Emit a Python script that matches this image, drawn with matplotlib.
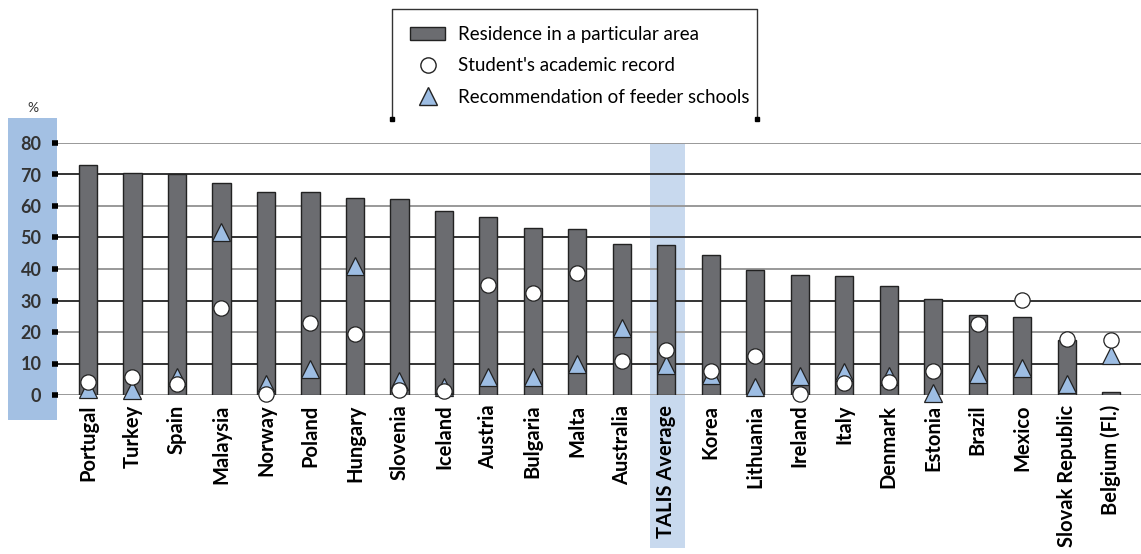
import matplotlib
matplotlib.use("Agg")
import matplotlib.pyplot as plt
import matplotlib.transforms as mtransforms
from matplotlib.patches import Rectangle, Patch
from matplotlib.lines import Line2D
import numpy as np

plt.rcParams['font.family'] = ['Lato', 'DejaVu Sans']

# Data
countries = ["Portugal", "Turkey", "Spain", "Malaysia", "Norway", "Poland",
             "Hungary", "Slovenia", "Iceland", "Austria", "Bulgaria", "Malta",
             "Australia", "TALIS Average", "Korea", "Lithuania", "Ireland",
             "Italy", "Denmark", "Estonia", "Brazil", "Mexico",
             "Slovak Republic", "Belgium (Fl.)"]
residence = [72.9, 70.6, 70.0, 67.3, 64.6, 64.4, 62.4, 62.2, 58.3, 56.5,
             52.9, 52.6, 47.9, 47.6, 44.6, 39.6, 38.2, 37.7, 34.5, 30.4,
             25.3, 24.9, 17.5, 0.9]
academic = [4.2, 5.8, 3.5, 27.5, 0.3, 23.0, 19.3, 1.7, 1.3, 35.0,
            32.5, 38.8, 10.8, 14.2, 7.6, 12.3, 0.3, 3.8, 4.1, 7.7,
            22.5, 30.3, 17.9, 17.6]
feeder = [2.0, 1.5, 5.7, 51.8, 3.5, 8.3, 40.8, 4.5, 2.4, 5.6,
          5.8, 10.0, 21.2, 9.4, 6.2, 2.4, 6.1, 7.4, 6.0, 0.7,
          6.8, 8.6, 3.4, 12.7]
yticks = [0, 10, 20, 30, 40, 50, 60, 70, 80]
highlight = "TALIS Average"

W, H = 1141, 554
fig = plt.figure(figsize=(W / 100, H / 100), dpi=100)
ax = fig.add_axes([58 / W, 1 - 395 / H, 1 - 58 / W, (395 - 143) / H])

x = np.arange(len(countries))
bar_col = "#6b6c70"
tri_col = "#9dbde3"
edge = "#222222"

# blue box behind the y tick labels
fig.patches.append(Rectangle((8 / W, 1 - 420 / H), 49 / W, 302 / H,
                             transform=fig.transFigure, facecolor="#a3c0e3",
                             edgecolor="none", zorder=-1))

# highlighted column for the average
hi = countries.index(highlight)
trans = mtransforms.blended_transform_factory(ax.transData, fig.transFigure)
ax.add_patch(Rectangle((hi - 0.37, 6 / H), 0.78, (H - 6 - 143) / H,
                       transform=trans, facecolor="#c8d9ee", edgecolor="none",
                       clip_on=False, zorder=0))

ax.bar(x, residence, width=0.41, color=bar_col, edgecolor=edge, linewidth=1,
       zorder=3)
ax.plot(x, feeder, linestyle="none", marker="^", markersize=13,
        markerfacecolor=tri_col, markeredgecolor=edge, markeredgewidth=0.9,
        zorder=4, clip_on=False)
ax.plot(x, academic, linestyle="none", marker="o", markersize=11,
        markerfacecolor="white", markeredgecolor=edge, markeredgewidth=0.9,
        zorder=5, clip_on=False)

ax.set_xlim(-0.674, 23.67)
ax.set_ylim(0, 80)
ax.set_yticks(yticks)
ax.set_yticklabels([str(t) for t in yticks], fontsize=13, fontweight="bold",
                   color="#333333")
ax.tick_params(axis="y", direction="out", length=4, width=4, color="black",
               pad=8)
ax.set_xticks(x)
ax.set_xticklabels(countries, rotation=90, fontsize=14.5, fontweight="bold",
                   color="black", va="top")
ax.tick_params(axis="x", length=0, pad=7)

for s in ax.spines.values():
    s.set_visible(False)
ax.patch.set_visible(False)

ax.yaxis.grid(True, linewidth=1.4)
ax.set_axisbelow(True)
for i, gl in enumerate(ax.get_ygridlines()):
    gl.set_color("#999999" if i % 2 == 0 else "#333333")

fig.text(33 / W, 1 - 108 / H, "%", fontsize=10, ha="center", va="center",
         color="#333333")

# legend with its open frame
handles = [Patch(facecolor=bar_col, edgecolor=edge, linewidth=1),
           Line2D([], [], linestyle="none", marker="o", markersize=11,
                  markerfacecolor="white", markeredgecolor=edge),
           Line2D([], [], linestyle="none", marker="^", markersize=13,
                  markerfacecolor=tri_col, markeredgecolor=edge)]
labels = ["Residence in a particular area", "Student's academic record",
          "Recommendation of feeder schools"]
fig.legend(handles, labels, loc="upper left",
           bbox_to_anchor=(410 / W, 1 - 26 / H), frameon=False, fontsize=13.5,
           handlelength=1.87, handleheight=0.7, labelspacing=0.77,
           handletextpad=0.69, borderpad=0, borderaxespad=0)
lx0, lx1, ly0, ly1 = 392 / W, 757 / W, 1 - 119 / H, 1 - 9 / H
fig.add_artist(Line2D([lx0, lx0, lx1, lx1], [ly0, ly1, ly1, ly0],
                      transform=fig.transFigure, color="#333333",
                      linewidth=1))
fig.add_artist(Line2D([lx0, lx1], [ly0, ly0], transform=fig.transFigure,
                      linestyle="none", marker="s", markersize=3.5,
                      color="black"))

fig.savefig("out.png", dpi=100)
